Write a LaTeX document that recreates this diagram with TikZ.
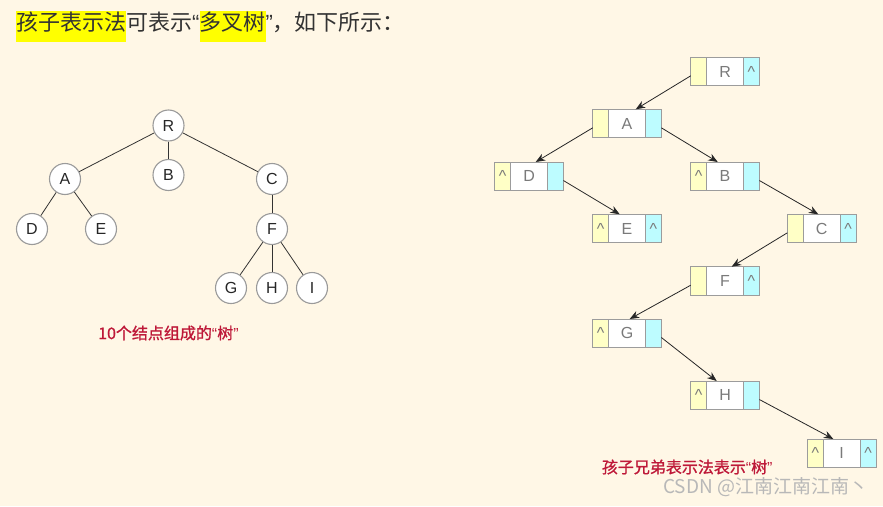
\documentclass[tikz,border=0pt]{standalone}
\usepackage{fontspec}
\setmainfont{Liberation Sans}
\newfontfamily\cjk{Noto Sans CJK SC}
\newfontfamily\cjkb[FakeBold=1.1]{Noto Sans CJK SC}
\newfontfamily\latq{Liberation Sans}
\usetikzlibrary{arrows.meta,calc}
\definecolor{bgc}{HTML}{FFF7E6}
\definecolor{hly}{HTML}{FFFF00}
\definecolor{hdtext}{HTML}{333333}
\definecolor{capred}{HTML}{BE1838}
\definecolor{circbd}{HTML}{9A9A9A}
\definecolor{boxbd}{HTML}{9C9C9C}
\definecolor{boxy}{HTML}{FFFFC6}
\definecolor{boxc}{HTML}{BDFCFF}
\definecolor{boxtxt}{HTML}{7A7A7A}
\definecolor{wmark}{HTML}{B8B8B8}
\setlength{\fboxsep}{0pt}
\newcommand\hlt[1]{\colorbox{hly}{\rule[-11.7pt]{0pt}{29pt}#1}}
\newcommand\myLQ{{\latq “}}
\newcommand\myRQ{{\latq ”}}
\tikzset{
  tnode/.style={circle, draw=circbd, line width=1.1pt, fill=white, minimum size=31pt, inner sep=0pt,
    text=black!85, font=\fontsize{16}{16}\selectfont},
  tedge/.style={draw=black!80, line width=0.8pt},
  partbox/.style={draw=boxbd, line width=1pt, minimum height=28.5pt, inner sep=0pt, outer sep=0pt,
    anchor=north west, text=boxtxt, font=\fontsize{16}{16}\selectfont},
  ylw/.style={partbox, fill=boxy, minimum width=16pt},
  wht/.style={partbox, fill=white, minimum width=36.7pt},
  cyn/.style={partbox, fill=boxc, minimum width=16pt},
  arr/.style={draw=black!85, line width=0.8pt, -{Stealth[length=9.5pt,width=7.5pt]}},
  caption/.style={text=capred, font=\cjkb\fontsize{16}{16}\selectfont, inner sep=0pt},
}
\newcommand\lnode[6]{%
  \node[ylw] (#1l) at (#2,#3) {#4};
  \node[wht] (#1) at (#1l.north east) {#5};
  \node[cyn] (#1r) at (#1.north east) {#6};
}
\begin{document}
\begin{tikzpicture}[x=1pt,y=-1pt]
\fill[bgc] (0,0) rectangle (883,506);
\useasboundingbox (0,0) rectangle (883,506);

% header
\node[anchor=base west, inner sep=0pt, text=hdtext, font=\cjk\fontsize{22}{24}\selectfont] (hdr) at (16,30)
  {\hlt{孩子表示法}可表示\myLQ\hlt{多叉树}\myRQ，如下所示：};

% left tree
\node[tnode] (R) at (168.5,125.5) {R};
\node[tnode] (A) at (65,179) {A};
\node[tnode] (B) at (168.5,175) {B};
\node[tnode] (C) at (272,179) {C};
\node[tnode] (D) at (32,229) {D};
\node[tnode] (E) at (101,229) {E};
\node[tnode] (F) at (272,229) {F};
\node[tnode] (G) at (231,288) {G};
\node[tnode] (H) at (272,288) {H};
\node[tnode] (I) at (312,288) {I};
\draw[tedge] (R) -- (A);
\draw[tedge] (R) -- (B);
\draw[tedge] (R) -- (C);
\draw[tedge] (A) -- (D);
\draw[tedge] (A) -- (E);
\draw[tedge] (C) -- (F);
\draw[tedge] (F) -- (G);
\draw[tedge] (F) -- (H);
\draw[tedge] (F) -- (I);
\node[caption, anchor=west] (capL) at (98,333) {10个结点组成的\myLQ 树\myRQ};

% right: child-sibling representation
\lnode{bR}{690.7}{57.3}{}{R}{\textasciicircum}
\lnode{bA}{592.7}{109.3}{}{A}{}
\lnode{bD}{494.7}{162}{\textasciicircum}{D}{}
\lnode{bB}{690.7}{162}{\textasciicircum}{B}{}
\lnode{bE}{592.7}{214.3}{\textasciicircum}{E}{\textasciicircum}
\lnode{bC}{787.3}{214.3}{}{C}{\textasciicircum}
\lnode{bF}{690.7}{266.7}{}{F}{\textasciicircum}
\lnode{bG}{592.7}{319}{\textasciicircum}{G}{}
\lnode{bH}{690.7}{381}{\textasciicircum}{H}{}
\lnode{bI}{807.3}{439}{\textasciicircum}{I}{\textasciicircum}

\draw[arr] ($(bRl.north west)!0.65!(bRl.south west)$) -- ($(bA.north west)+(27,0)$);
\draw[arr] ($(bAl.north west)!0.65!(bAl.south west)$) -- ($(bD.north west)+(25,0)$);
\draw[arr] ($(bAr.north east)!0.65!(bAr.south east)$) -- ($(bB.north west)+(11,0)$);
\draw[arr] ($(bDr.north east)!0.65!(bDr.south east)$) -- ($(bE.north west)+(11,0)$);
\draw[arr] ($(bBr.north east)!0.65!(bBr.south east)$) -- ($(bC.north west)+(15,0)$);
\draw[arr] ($(bCl.north west)!0.65!(bCl.south west)$) -- ($(bF.north west)+(25,0)$);
\draw[arr] ($(bFl.north west)!0.65!(bFl.south west)$) -- ($(bG.north west)+(21,0)$);
\draw[arr] ($(bGr.north east)!0.65!(bGr.south east)$) -- ($(bH.north west)+(10,0)$);
\draw[arr] ($(bHr.north east)!0.65!(bHr.south east)$) -- ($(bI.north west)+(10,0)$);

\node[caption, anchor=west] (capR) at (601.7,467) {孩子兄弟表示法表示\myLQ 树\myRQ};
\node[anchor=west, inner sep=0pt, text=wmark, font=\cjk\fontsize{19}{19}\selectfont] (wm) at (663,487) {CSDN @江南江南江南丶};
\end{tikzpicture}
\end{document}
